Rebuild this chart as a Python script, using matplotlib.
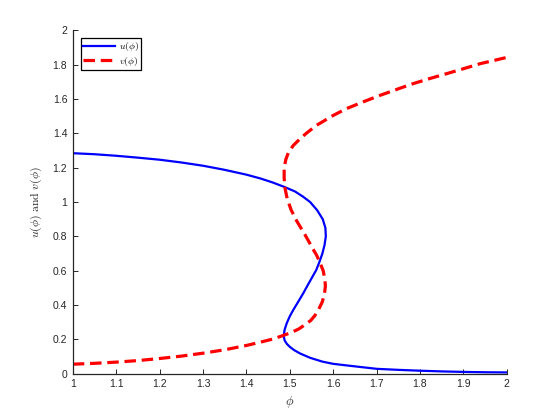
import matplotlib
matplotlib.use('Agg')
import matplotlib.pyplot as plt

plt.rcParams['font.family'] = ['Liberation Sans', 'DejaVu Sans']
plt.rcParams['mathtext.fontset'] = 'cm'

# u(phi): solid blue
phi_u = [1.0, 1.05, 1.1, 1.15, 1.2, 1.25, 1.3, 1.35, 1.4, 1.432, 1.46, 1.489, 1.512,
         1.531, 1.547, 1.563, 1.576, 1.582, 1.583, 1.580, 1.575, 1.568, 1.561, 1.551,
         1.541, 1.531, 1.519, 1.508, 1.500, 1.493, 1.488, 1.486, 1.488, 1.493, 1.500, 1.510,
         1.524, 1.547, 1.575, 1.60, 1.639, 1.70, 1.75, 1.80, 1.85, 1.90, 1.95, 2.0]
u = [1.285, 1.279, 1.270, 1.259, 1.247, 1.231, 1.212, 1.188, 1.16, 1.138, 1.115, 1.087, 1.062,
     1.031, 1.0, 0.953, 0.90, 0.85, 0.80, 0.75, 0.70, 0.65, 0.605, 0.56,
     0.515, 0.469, 0.418, 0.372, 0.335, 0.295, 0.256, 0.22, 0.195, 0.175, 0.157, 0.138,
     0.118, 0.093, 0.071, 0.058, 0.0465, 0.029, 0.023, 0.018, 0.014, 0.011, 0.009, 0.008]

# v(phi): dashed red
phi_v = [1.0, 1.05, 1.1, 1.15, 1.2, 1.25, 1.3, 1.35, 1.4, 1.43, 1.462, 1.50, 1.52,
         1.531, 1.548, 1.558, 1.566, 1.575, 1.580, 1.582, 1.581, 1.577, 1.570, 1.562,
         1.555, 1.535, 1.516, 1.503, 1.494, 1.489, 1.487, 1.487, 1.491, 1.497, 1.508,
         1.524, 1.54, 1.562, 1.60, 1.631, 1.67, 1.708, 1.75, 1.784, 1.82, 1.861,
         1.90, 1.938, 1.97, 2.0]
v = [0.056, 0.061, 0.068, 0.077, 0.089, 0.103, 0.12, 0.14, 0.165, 0.183, 0.203, 0.237, 0.26,
     0.279, 0.31, 0.34, 0.372, 0.42, 0.469, 0.51, 0.547, 0.60, 0.644, 0.69,
     0.72, 0.81, 0.89, 0.955, 1.02, 1.08, 1.14, 1.2, 1.25, 1.29, 1.33,
     1.37, 1.405, 1.448, 1.505, 1.545, 1.585, 1.622, 1.66, 1.69, 1.718, 1.748,
     1.777, 1.806, 1.825, 1.843]

xticks = [1, 1.1, 1.2, 1.3, 1.4, 1.5, 1.6, 1.7, 1.8, 1.9, 2]
xticklabels = ['1', '1.1', '1.2', '1.3', '1.4', '1.5', '1.6', '1.7', '1.8', '1.9', '2']
yticks = [0, 0.2, 0.4, 0.6, 0.8, 1, 1.2, 1.4, 1.6, 1.8, 2]
yticklabels = ['0', '0.2', '0.4', '0.6', '0.8', '1', '1.2', '1.4', '1.6', '1.8', '2']

fig = plt.figure(figsize=(5.6, 4.2), dpi=100)
ax = fig.add_axes([0.13, 0.11, 0.775, 0.8175])

ax.plot(phi_u, u, color=(0, 0, 1), lw=1.6, label=r'$u(\phi)$')
ax.plot(phi_v, v, color=(1, 0, 0), lw=2.3, ls='--', dashes=(3.6, 1.8), label=r'$v(\phi)$')

ax.set_xlim(1, 2)
ax.set_ylim(0, 2)
ax.set_xticks(xticks)
ax.set_xticklabels(xticklabels)
ax.set_yticks(yticks)
ax.set_yticklabels(yticklabels)
ax.tick_params(direction='in', length=3.5, width=0.7, labelsize=7.5, colors='#262626',
               pad=4)
ax.spines['top'].set_visible(False)
ax.spines['right'].set_visible(False)
for s in ['left', 'bottom']:
    ax.spines[s].set_linewidth(0.9)
    ax.spines[s].set_color('#262626')

ax.set_xlabel(r'$\phi$', fontsize=9, color='#262626', labelpad=3)
ax.set_ylabel(r'$u(\phi)\ \mathrm{and}\ v(\phi)$', fontsize=8.5, color='#262626', labelpad=6)

leg = ax.legend(loc='upper left', bbox_to_anchor=(0.018, 0.978), fontsize=7,
                handlelength=3.3, handletextpad=0.4, borderpad=0.25,
                labelspacing=0.12, fancybox=False, framealpha=1, borderaxespad=0)
leg.get_frame().set_edgecolor('black')
leg.get_frame().set_linewidth(0.9)

fig.savefig('out.png', dpi=100)
